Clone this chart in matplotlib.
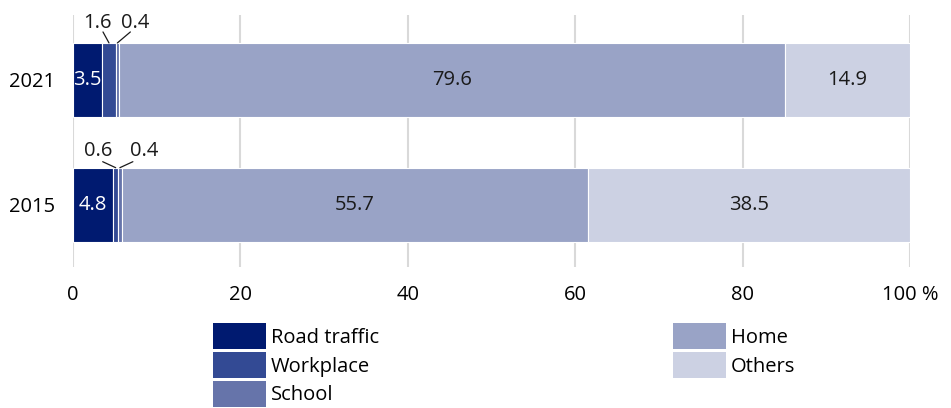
import matplotlib.pyplot as plt
from matplotlib.patches import Patch

years = ["2015", "2021"]
categories = ["Road traffic", "Workplace", "School", "Home", "Others"]
road_traffic = [4.8, 3.5]
workplace = [0.6, 1.6]
school = [0.4, 0.4]
home = [55.7, 79.6]
others = [38.5, 14.9]
series = [road_traffic, workplace, school, home, others]
ticks = [0, 20, 40, 60, 80, 100]
tick_labels = ["0", "20", "40", "60", "80", "100 %"]

colors = ["#001a70", "#334a94", "#6674aa", "#99a3c6", "#ccd1e3"]
text_colors = ["white", None, None, "#1a1a1a", "#1a1a1a"]

FS = 14.5
plt.rcParams["font.family"] = ["Open Sans", "DejaVu Sans"]
plt.rcParams["font.size"] = FS

fig = plt.figure(figsize=(9.51, 4.08), dpi=100)
ax = fig.add_axes([73 / 951, 1 - 267 / 408, 837 / 951, 252 / 408])

ypos = list(range(len(years)))
height = 0.592
left = [0.0] * len(years)
for vals, cat, col, tcol in zip(series, categories, colors, text_colors):
    bars = ax.barh(ypos, vals, left=left, height=height, color=col,
                   edgecolor="white", linewidth=0.8, label=cat, zorder=3)
    if tcol is not None:
        for b, v in zip(bars, vals):
            ax.text(b.get_x() + b.get_width() / 2, b.get_y() + b.get_height() / 2,
                    f"{v:.1f}", ha="center", va="center", color=tcol, fontsize=FS, zorder=4)
    left = [l + v for l, v in zip(left, vals)]

# small segments labelled above with leader lines
# (bar index, series index): (text offset px, line start offset px)
callouts = {
    (0, 1): ((-17, 17), (-13, 6)),
    (0, 2): ((24, 17), (13, 6)),
    (1, 1): ((-12, 20), (-6, 11)),
    (1, 2): ((18, 20), (13, 11)),
}
for i in range(len(years)):
    start = 0.0
    for k, vals in enumerate(series):
        v = vals[i]
        if (i, k) in callouts:
            (tx, ty), (lx, ly) = callouts[(i, k)]
            xy = (start + v / 2, i + height / 2)
            ax.annotate("", xy=xy, xytext=(lx, ly), textcoords="offset pixels",
                        arrowprops=dict(arrowstyle="-", color="#1a1a1a", lw=0.9,
                                        shrinkA=0, shrinkB=0), zorder=5)
            ax.annotate(f"{v:.1f}", xy=xy, xytext=(tx, ty), textcoords="offset pixels",
                        ha="center", va="center", fontsize=FS, color="#1a1a1a", zorder=5)
        start += v

ax.set_xlim(0, 100)
ax.set_ylim(-0.5, 1.52)
ax.set_xticks(ticks)
ax.set_xticklabels(tick_labels)
ax.set_yticks(ypos)
ax.set_yticklabels(years)
ax.tick_params(axis="x", length=0, pad=13, labelsize=FS)
ax.tick_params(axis="y", length=0, pad=13, labelsize=FS)
ax.grid(axis="x", color="#d9d9d9", linewidth=1.5, zorder=0)
for s in ax.spines.values():
    s.set_visible(False)

handles = [Patch(facecolor=c, label=l) for c, l in zip(colors, categories)]
kw = dict(frameon=False, loc="upper left", borderpad=0, handlelength=2.64,
          handleheight=1.63, handletextpad=0.25, labelspacing=0.13, fontsize=FS,
          borderaxespad=0)
fig.legend(handles=handles[:3], bbox_to_anchor=(213 / 951, 1 - 323 / 408), **kw)
fig.legend(handles=handles[3:], bbox_to_anchor=(673 / 951, 1 - 323 / 408), **kw)

fig.savefig("out.png", dpi=100)
